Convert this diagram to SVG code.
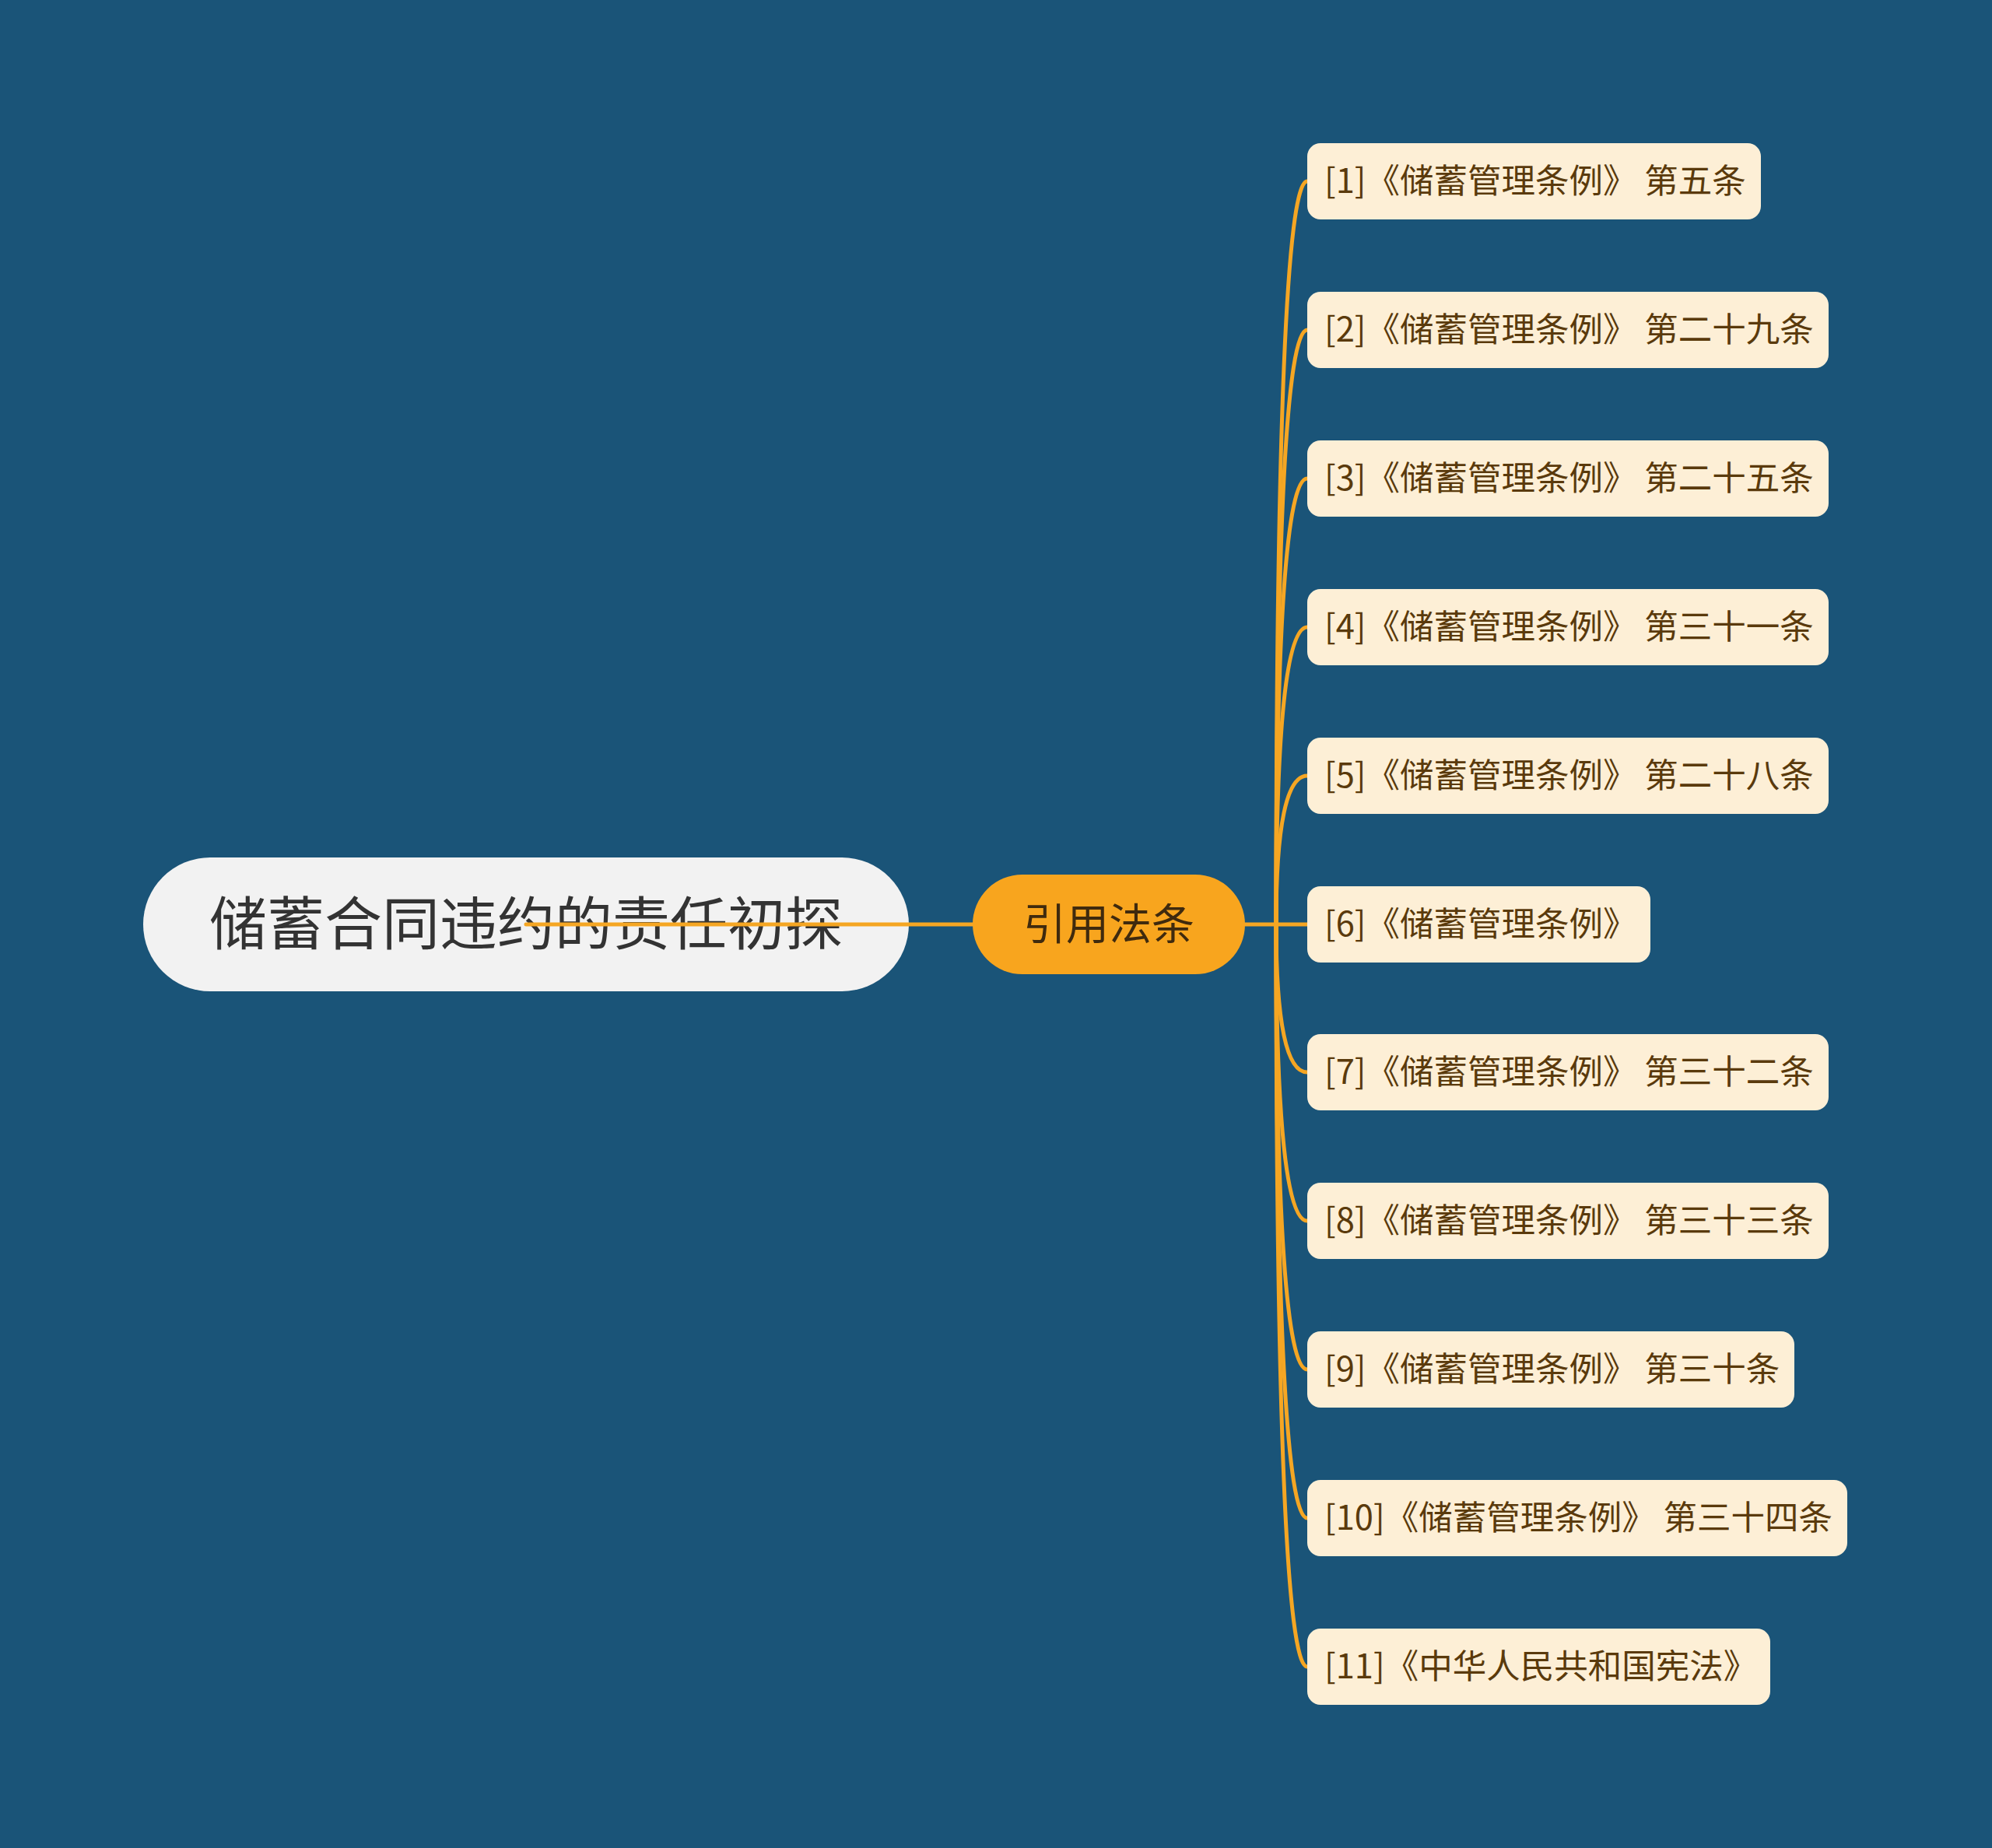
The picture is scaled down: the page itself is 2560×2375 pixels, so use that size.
<svg xmlns="http://www.w3.org/2000/svg" width="2560" height="2375" viewBox="0 0 2560 2375">
<style>
.bg{fill:#1a5478}
.conn{fill:none;stroke:#f5a623;stroke-width:5;stroke-linecap:round}
.leaf rect{fill:#fdefd6}
.leaf text{font-family:"Noto Sans CJK SC","Noto Sans",sans-serif;font-size:43.5px;fill:#5a3a0c}
.root rect{fill:#f2f2f2}
.root text{font-family:"Noto Sans CJK SC","Noto Sans",sans-serif;font-size:74px;fill:#333333;text-anchor:middle}
.mid rect{fill:#f8a51e}
.mid text{font-family:"Noto Sans CJK SC","Noto Sans",sans-serif;font-size:55px;fill:#3f2a0e;text-anchor:middle}
</style>
<rect class="bg" x="0" y="0" width="2560" height="2375"/>
<g id="root" class="root">
<rect x="184" y="1102" width="984" height="172" rx="86" ry="86"/>
<text x="676" y="1214">储蓄合同违约的责任初探</text>
</g>
<g id="connectors">
<path class="conn" d="M676 1188 H1250"/>
<path class="conn" d="M1600 1188 H1680"/>
<path class="conn" d="M1640 1188 Q1640 233 1680 233"/>
<path class="conn" d="M1640 1188 Q1640 424 1680 424"/>
<path class="conn" d="M1640 1188 Q1640 615 1680 615"/>
<path class="conn" d="M1640 1188 Q1640 806 1680 806"/>
<path class="conn" d="M1640 1188 Q1640 997 1680 997"/>
<path class="conn" d="M1640 1188 Q1640 1378 1680 1378"/>
<path class="conn" d="M1640 1188 Q1640 1569 1680 1569"/>
<path class="conn" d="M1640 1188 Q1640 1760 1680 1760"/>
<path class="conn" d="M1640 1188 Q1640 1951 1680 1951"/>
<path class="conn" d="M1640 1188 Q1640 2142 1680 2142"/>
</g>
<g id="mid" class="mid">
<rect x="1250" y="1124" width="350" height="128" rx="64" ry="64"/>
<text x="1425" y="1207">引用法条</text>
</g>
<g id="leaf1" class="leaf"><rect x="1680" y="184" width="583" height="98" rx="17"/><text x="1702" y="248">[1]《储蓄管理条例》 第五条</text></g>
<g id="leaf2" class="leaf"><rect x="1680" y="375" width="670" height="98" rx="17"/><text x="1702" y="439">[2]《储蓄管理条例》 第二十九条</text></g>
<g id="leaf3" class="leaf"><rect x="1680" y="566" width="670" height="98" rx="17"/><text x="1702" y="630">[3]《储蓄管理条例》 第二十五条</text></g>
<g id="leaf4" class="leaf"><rect x="1680" y="757" width="670" height="98" rx="17"/><text x="1702" y="821">[4]《储蓄管理条例》 第三十一条</text></g>
<g id="leaf5" class="leaf"><rect x="1680" y="948" width="670" height="98" rx="17"/><text x="1702" y="1012">[5]《储蓄管理条例》 第二十八条</text></g>
<g id="leaf6" class="leaf"><rect x="1680" y="1139" width="441" height="98" rx="17"/><text x="1702" y="1203">[6]《储蓄管理条例》</text></g>
<g id="leaf7" class="leaf"><rect x="1680" y="1329" width="670" height="98" rx="17"/><text x="1702" y="1393">[7]《储蓄管理条例》 第三十二条</text></g>
<g id="leaf8" class="leaf"><rect x="1680" y="1520" width="670" height="98" rx="17"/><text x="1702" y="1584">[8]《储蓄管理条例》 第三十三条</text></g>
<g id="leaf9" class="leaf"><rect x="1680" y="1711" width="626" height="98" rx="17"/><text x="1702" y="1775">[9]《储蓄管理条例》 第三十条</text></g>
<g id="leaf10" class="leaf"><rect x="1680" y="1902" width="694" height="98" rx="17"/><text x="1702" y="1966">[10]《储蓄管理条例》 第三十四条</text></g>
<g id="leaf11" class="leaf"><rect x="1680" y="2093" width="595" height="98" rx="17"/><text x="1702" y="2157">[11]《中华人民共和国宪法》</text></g>
</svg>
